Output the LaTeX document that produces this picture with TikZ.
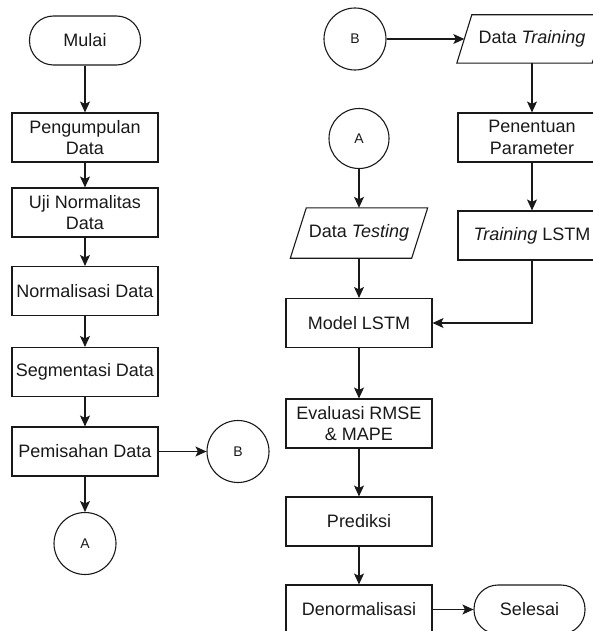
\documentclass[tikz,border=0pt]{standalone}
\usepackage{fontspec}
\setmainfont{Liberation Sans}
\usetikzlibrary{arrows.meta,shapes.geometric}
\tikzset{
  base/.style={draw=black!90, line width=1.1pt, inner sep=0pt, align=center,
    font=\fontsize{18}{21.6}\selectfont, text=black!90},
  procbox/.style={base, rectangle, minimum width=146pt, minimum height=49pt},
  termbox/.style={base, rectangle, rounded corners=24pt, minimum width=111pt, minimum height=49pt},
  conn/.style={base, circle, minimum size=#1, font=\fontsize{14}{16}\selectfont},
  iobox/.style={rectangle, inner sep=0pt, align=center, font=\fontsize{18}{21.6}\selectfont, text=black!90},
  flow/.style={draw=black!90, line width=1.1pt, -{Stealth[length=11pt,width=10pt,inset=2.5pt]}},
  pline/.style={draw=black!90, line width=1.1pt, line join=miter}
}
\begin{document}
\begin{tikzpicture}[x=1pt,y=-1pt]
\useasboundingbox (0,0) rectangle (593,631);
\clip (0,0) rectangle (593,631);
% left column
\node[termbox] (mulai) at (85,40.5) {Mulai};
\node[procbox] (p1) at (85,137.5) {Pengumpulan\\Data};
\node[procbox] (p2) at (85,212.5) {Uji Normalitas\\Data};
\node[procbox] (p3) at (85,291) {Normalisasi Data};
\node[procbox] (p4) at (85,372) {Segmentasi Data};
\node[procbox] (p5) at (85,451.5) {Pemisahan Data};
\node[conn=62pt] (b1) at (238,451.5) {B};
\node[conn=62pt] (a1) at (85,543.5) {A};
% right part
\node[conn=62pt] (b2) at (355,39) {B};
\node[iobox, minimum width=135pt, minimum height=48pt] (dtrain) at (532,39) {Data \textit{Training}};
\node[procbox, minimum width=148pt] (pp) at (532,137.5) {Penentuan\\Parameter};
\node[procbox, minimum width=148pt] (tl) at (532,235.5) {\textit{Training} LSTM};
\node[conn=60pt] (a2) at (359,138.5) {A};
\node[iobox, minimum width=121pt, minimum height=50pt] (dtest) at (359,233) {Data \textit{Testing}};
\node[procbox] (model) at (359,323) {Model LSTM};
\node[procbox] (eval) at (359,423.5) {Evaluasi RMSE\\\& MAPE};
\node[procbox] (pred) at (359,521.5) {Prediksi};
\node[procbox] (denorm) at (359,609.5) {Denormalisasi};
\node[termbox] (selesai) at (529.5,609.5) {Selesai};
% parallelograms
\draw[pline] ([xshift=7.5pt]dtrain.north west) -- ([xshift=7.5pt]dtrain.north east)
  -- ([xshift=-7.5pt]dtrain.south east) -- ([xshift=-7.5pt]dtrain.south west) -- cycle;
\draw[pline] ([xshift=8pt]dtest.north west) -- ([xshift=8pt]dtest.north east)
  -- ([xshift=-8pt]dtest.south east) -- ([xshift=-8pt]dtest.south west) -- cycle;
% connectors
\draw[flow] (mulai) -- (p1);
\draw[flow] (p1) -- (p2);
\draw[flow] (p2) -- (p3);
\draw[flow] (p3) -- (p4);
\draw[flow] (p4) -- (p5);
\draw[flow] (p5.east) -- (b1.west);
\draw[flow] (p5) -- (a1);
\draw[flow] (b2.east) -- (dtrain.west);
\draw[flow] (dtrain) -- (pp);
\draw[flow] (pp) -- (tl);
\draw[flow] (tl.south) |- (model.east);
\draw[flow] (a2) -- (dtest);
\draw[flow] (dtest) -- (model);
\draw[flow] (model) -- (eval);
\draw[flow] (eval) -- (pred);
\draw[flow] (pred) -- (denorm);
\draw[flow] (denorm.east) -- (selesai.west);
\end{tikzpicture}
\end{document}
